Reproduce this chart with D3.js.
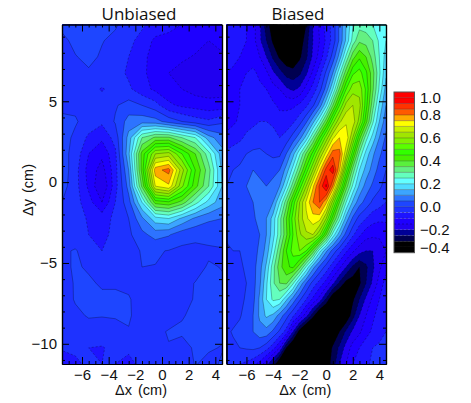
<!DOCTYPE html>
<html>
<head>
<meta charset="utf-8">
<script src="https://d3js.org/d3.v7.min.js"></script>
<style>
  html, body { margin: 0; padding: 0; background: #fff; }
  svg { display: block; }
  text { fill: #111; }
</style>
</head>
<body>
<svg id="chart" width="471" height="403"></svg>
<script>
// grid columns (cm) and rows (cm, top row first)
var xCoarse = [-7.5,-6.5,-5.5,-4.5,-3.5,-2.5,-1.5,-0.5,0.5,1.5,2.5,3.5,4.5];
var xFine = [-7.5,-7,-6.5,-6,-5.5,-5,-4.5,-4,-3.5,-3,-2.5,-2,-1.5,-1,-0.5,0,0.5,1,1.5,2,2.5,3,3.5,4,4.5];
var yCm = [9.75,8.75,7.75,6.75,5.75,4.75,3.75,2.75,1.75,0.75,-0.25,-1.25,-2.25,-3.25,-4.25,-5.25,-6.25,-7.25,-8.25,-9.25,-10.25,-11.25];

var unbiased = [
  [.01,.02,.02,.01,.005,-.02,-.04,-.07,-.08,-.1,-.1,-.12,-.13],
  [-.01,.01,.01,.002,-.01,-.035,-.07,-.11,-.12,-.12,-.13,-.15,-.13],
  [-.01,-.002,.01,-.005,-.03,-.05,-.09,-.115,-.13,-.14,-.155,-.17,-.16],
  [-.01,-.01,-.005,-.01,-.025,-.06,-.09,-.12,-.15,-.17,-.18,-.19,-.17],
  [-.01,-.02,-.03,-.055,-.03,-.04,-.08,-.11,-.13,-.15,-.17,-.175,-.17],
  [-.01,-.01,-.01,-.02,-.005,.02,0,-.03,-.09,-.11,-.12,-.13,-.13],
  [.01,.005,-.02,-.04,.005,.07,.08,.07,.03,0,-.025,-.04,-.01],
  [.02,-.01,-.06,-.09,-.03,.12,.3,.36,.36,.3,.25,.12,.07],
  [.02,-.02,-.1,-.14,-.06,.14,.42,.6,.62,.5,.4,.27,.12],
  [.03,-.03,-.12,-.17,-.07,.1,.42,.78,.82,.62,.45,.32,.14],
  [.02,-.03,-.11,-.2,-.07,.07,.36,.7,.74,.56,.42,.3,.15],
  [0,-.03,-.08,-.15,-.05,.03,.2,.42,.44,.38,.27,.18,.12],
  [0,-.03,-.055,-.07,-.04,0,.09,.18,.2,.14,.09,.06,.05],
  [-.01,-.035,-.05,-.06,-.04,-.01,.035,.07,.055,.02,.01,.01,.02],
  [-.01,.005,-.03,-.05,-.045,-.01,.002,.005,-.002,-.01,-.01,-.005,-.005],
  [-.01,.005,-.005,-.02,-.02,-.005,0,-.001,-.005,-.01,-.01,.003,-.001],
  [-.01,.002,.006,-.005,-.005,-.01,-.012,-.015,-.012,-.008,.001,.006,.003],
  [-.012,.002,.008,.008,.008,.004,-.02,-.05,-.02,-.008,.002,.008,.008],
  [-.015,-.005,.002,.001,.002,.004,-.015,-.04,-.02,-.001,.003,.001,.004],
  [-.015,-.01,-.01,-.01,-.008,-.002,-.01,-.01,.003,.002,.004,.006,.004],
  [-.04,-.04,-.05,-.055,-.03,-.03,-.01,-.005,-.002,-.005,.002,.002,-.001],
  [-.1,-.06,-.04,-.05,-.05,-.08,-.02,-.01,-.01,-.01,.001,-.005,.002]
];

var biased = [
  [-.06,-.075,-.09,-.1,-.13,-.19,-.28,-.33,-.36,-.38,-.37,-.35,-.3,-.2,-.14,-.08,-.03,.06,.15,.24,.28,.27,.25,.21,.2],
  [-.05,-.07,-.09,-.1,-.13,-.19,-.25,-.31,-.34,-.37,-.38,-.34,-.27,-.2,-.15,-.09,-.03,.06,.16,.27,.34,.33,.3,.24,.2],
  [-.07,-.085,-.1,-.11,-.12,-.15,-.2,-.26,-.31,-.34,-.35,-.31,-.26,-.19,-.13,-.06,.02,.12,.26,.38,.44,.4,.33,.25,.18],
  [-.1,-.11,-.11,-.1,-.09,-.11,-.14,-.19,-.23,-.27,-.28,-.26,-.21,-.14,-.07,.01,.1,.24,.38,.49,.52,.46,.37,.26,.16],
  [-.13,-.12,-.1,-.09,-.08,-.09,-.1,-.13,-.15,-.19,-.21,-.19,-.13,-.08,-.02,.07,.2,.36,.5,.58,.58,.49,.36,.24,.13],
  [-.15,-.13,-.1,-.08,-.07,-.07,-.08,-.09,-.11,-.11,-.11,-.09,-.06,-.01,.07,.19,.35,.5,.62,.65,.62,.47,.32,.19,.1],
  [-.13,-.11,-.09,-.07,-.06,-.05,-.05,-.06,-.08,-.08,-.06,-.02,.04,.13,.24,.38,.53,.64,.69,.68,.58,.42,.26,.15,.07],
  [-.08,-.07,-.06,-.04,-.03,-.02,-.02,-.03,-.05,-.03,.02,.08,.17,.3,.44,.57,.69,.75,.74,.6,.42,.27,.18,.1,.04],
  [-.04,-.03,-.02,0,.01,.01,0,-.01,-.01,.05,.13,.24,.36,.47,.6,.72,.83,.82,.66,.47,.29,.18,.11,.06,.02],
  [-.01,0,.01,.03,.05,.04,.03,.03,.05,.12,.22,.34,.47,.6,.74,.87,.93,.76,.52,.33,.2,.13,.08,.03,0],
  [0,.02,.03,.05,.06,.06,.05,.07,.1,.2,.33,.47,.6,.74,.86,.96,.8,.58,.38,.24,.14,.08,.04,.01,-.02],
  [0,.02,.03,.04,.05,.06,.06,.1,.2,.33,.47,.6,.71,.8,.85,.76,.58,.4,.25,.14,.07,.03,-.01,-.03,-.05],
  [.01,.02,.02,.03,.045,.06,.1,.17,.28,.4,.52,.62,.69,.73,.72,.6,.42,.27,.13,.04,-.02,-.05,-.08,-.09,-.09],
  [.01,.015,.02,.025,.03,.05,.1,.18,.28,.39,.5,.59,.64,.65,.56,.4,.23,.12,.03,-.04,-.09,-.13,-.14,-.14,-.13],
  [-.01,0,0,.01,.03,.06,.12,.22,.34,.45,.52,.55,.5,.38,.22,.11,.03,-.03,-.09,-.14,-.18,-.2,-.2,-.18,-.15],
  [-.015,-.01,-.005,.005,.03,.08,.16,.28,.38,.44,.46,.37,.24,.12,.04,-.02,-.08,-.14,-.2,-.26,-.3,-.26,-.21,-.16,-.12],
  [-.02,-.015,-.01,0,.03,.09,.19,.29,.35,.36,.26,.14,.05,-.02,-.07,-.12,-.19,-.26,-.32,-.33,-.31,-.25,-.19,-.13,-.08],
  [-.03,-.02,-.01,.005,.035,.11,.2,.26,.25,.16,.08,.01,-.05,-.11,-.17,-.26,-.36,-.39,-.36,-.31,-.25,-.19,-.14,-.1,-.07],
  [-.03,-.02,-.005,.02,.05,.11,.16,.14,.08,.02,-.04,-.1,-.18,-.28,-.38,-.42,-.42,-.4,-.35,-.27,-.2,-.15,-.11,-.08,-.06],
  [-.01,.005,.015,.03,.05,.08,.08,.04,-.01,-.07,-.2,-.33,-.42,-.46,-.46,-.44,-.37,-.3,-.24,-.19,-.16,-.12,-.09,-.07,-.05],
  [-.02,-.01,0,.005,.01,0,-.03,-.08,-.15,-.3,-.39,-.45,-.48,-.46,-.42,-.36,-.29,-.24,-.18,-.13,-.1,-.07,-.05,-.04,-.03],
  [-.04,-.045,-.05,-.06,-.08,-.12,-.18,-.26,-.37,-.45,-.5,-.5,-.5,-.46,-.38,-.33,-.28,-.2,-.15,-.1,-.08,-.06,-.04,-.03,-.02]
];

var levels = [-.4,-.35,-.3,-.25,-.2,-.15,-.1,-.05,0,.05,.1,.15,.2,.25,.3,.35,.4,.45,.5,.55,.6,.65,.7,.75,.8,.85,.9,.95];
var levelColors = ["#000000","#000000","#000050","#000096","#2000f0","#1e00ff","#1e14ff","#1e32ff","#1e46ff","#2d73ff","#3ca5ff","#50dcff","#64ffff","#64ffbe","#64f082","#5af03c","#46f000","#32ff00","#5aff00","#82f000","#a0e600","#c8f000","#ffff00","#ffaa00","#ff5a00","#ff3200","#ff0000","#ff0000"];

var xMajor = [-6,-4,-2,0,2,4];
var xMinor = [-7,-6.5,-5.5,-5,-4.5,-3.5,-3,-2.5,-1.5,-1,-0.5,0.5,1,1.5,2.5,3,3.5];
var yMajor = [5,0,-5,-10];
var yMinor = [9,8,7,6,4,3,2,1,-1,-2,-3,-4,-6,-7,-8,-9,-11];
var barTicks = [1,.8,.6,.4,.2,0,-.2,-.4];

var svg = d3.select("#chart");
var top_ = 24.5, bottom = 364;
var fontName = "Liberation Sans, sans-serif";
var minus = function(v, digits) { return d3.format(digits)(v).replace("-", "\u2212"); };

var yScale = d3.scaleLinear().domain([yCm[0], yCm[yCm.length - 1]]).range([top_, bottom]);

function panel(id, xCm, values, left, right, title, titleX, showY) {
  var x = d3.scaleLinear().domain([xCm[0], xCm[xCm.length - 1]]).range([left, right]);
  var g = svg.append("g").attr("id", id);

  svg.append("clipPath").attr("id", "clip_" + id).append("rect")
    .attr("x", left).attr("y", top_).attr("width", right - left).attr("height", bottom - top_);

  var contours = d3.contours().size([xCm.length, yCm.length]).thresholds(levels)(d3.merge(values));

  // d3 puts a grid value at i+0.5, so take that off again
  var col = d3.scaleLinear().domain([0.5, xCm.length - 0.5]).range(x.domain());
  var row = d3.scaleLinear().domain([0.5, yCm.length - 0.5]).range(yScale.domain());
  var path = d3.geoPath(d3.geoTransform({
    point: function(cx, cy) {
      this.stream.point(x(col(cx)), yScale(row(cy)));
    }
  }));

  var inner = g.append("g").attr("clip-path", "url(#clip_" + id + ")");
  inner.append("rect").attr("x", left).attr("y", top_)
    .attr("width", right - left).attr("height", bottom - top_).attr("fill", levelColors[0]);

  inner.append("g").selectAll("path").data(contours).enter().append("path")
    .attr("d", path)
    .attr("fill", function(d, i) { return levelColors[i]; });

  inner.append("g").selectAll("path").data(contours).enter().append("path")
    .attr("d", path)
    .attr("fill", "none")
    .attr("stroke", "#000")
    .attr("stroke-opacity", 0.5)
    .attr("stroke-width", 0.55)
    .attr("stroke-dasharray", function(d) { return d.value < 0 ? "2,2" : null; });

  // ticks, all pointing in
  function ticks(axis, vals, size, fmt) {
    return axis.tickValues(vals).tickSize(-size).tickSizeOuter(0).tickPadding(5).tickFormat(fmt || "");
  }
  var bx = g.append("g").attr("transform", "translate(0," + bottom + ")");
  bx.append("g").call(ticks(d3.axisBottom(x), xMajor, 7, function(d) { return minus(d, "d"); }));
  bx.append("g").call(ticks(d3.axisBottom(x), xMinor, 3));
  var tx = g.append("g").attr("transform", "translate(0," + top_ + ")");
  tx.append("g").call(ticks(d3.axisTop(x), xMajor, 7));
  tx.append("g").call(ticks(d3.axisTop(x), xMinor, 3));
  var ly = g.append("g").attr("transform", "translate(" + left + ",0)");
  ly.append("g").call(ticks(d3.axisLeft(yScale), yMajor, 7, showY ? function(d) { return minus(d, "d"); } : ""));
  ly.append("g").call(ticks(d3.axisLeft(yScale), yMinor, 3));
  var ry = g.append("g").attr("transform", "translate(" + right + ",0)");
  ry.append("g").call(ticks(d3.axisRight(yScale), yMajor, 7));
  ry.append("g").call(ticks(d3.axisRight(yScale), yMinor, 3));

  g.selectAll(".domain").attr("stroke", "#000").attr("stroke-width", 1.2);
  g.selectAll(".tick text").attr("font-family", fontName).attr("font-size", 15).attr("fill", "#111");

  g.append("text").attr("x", (left + right) / 2 - 1).attr("y", 395)
    .attr("text-anchor", "middle").attr("font-family", fontName).attr("font-size", 14.5)
    .attr("word-spacing", 2).text("\u0394x (cm)");
  g.append("text").attr("x", titleX).attr("y", 20)
    .attr("text-anchor", "middle").attr("font-family", "Open Sans, sans-serif").attr("font-size", 17)
    .text(title);
}

panel("unbiased", xCoarse, unbiased, 62, 222, "Unbiased", 139, true);
panel("biased", xFine, biased, 226.5, 386, "Biased", 298, false);

svg.append("text").attr("transform", "translate(33,190) rotate(-90)")
  .attr("text-anchor", "middle").attr("font-family", fontName).attr("font-size", 14.5)
  .attr("word-spacing", 2).text("\u0394y (cm)");

// colour bar
var barY = d3.scaleLinear().domain([-.4, 1]).range([252.7, 92]);
var bar = svg.append("g");
bar.selectAll("rect").data(levels).enter().append("rect")
  .attr("x", 394).attr("width", 20.5)
  .attr("y", function(d) { return barY(d + .05); })
  .attr("height", function(d) { return barY(d) - barY(d + .05); })
  .attr("fill", function(d, i) { return levelColors[i]; });
bar.selectAll("line").data(levels.slice(1)).enter().append("line")
  .attr("x1", 394).attr("x2", 414.5)
  .attr("y1", function(d) { return barY(d); }).attr("y2", function(d) { return barY(d); })
  .attr("stroke", "#000").attr("stroke-opacity", 0.5).attr("stroke-width", 0.55)
  .attr("stroke-dasharray", function(d) { return d < 0 ? "2,2" : null; });
bar.append("rect").attr("x", 394).attr("y", 92).attr("width", 20.5).attr("height", 160.7)
  .attr("fill", "none").attr("stroke", "#555").attr("stroke-width", 1);
bar.selectAll("text").data(barTicks).enter().append("text")
  .attr("x", 420)
  .attr("y", function(d) { return barY(d) + 5.3 + (d === 1 ? 5.7 : d === -.4 ? -4.7 : 0); })
  .attr("font-family", fontName).attr("font-size", 15)
  .text(function(d) { return minus(d, ".1f"); });
</script>
</body>
</html>
